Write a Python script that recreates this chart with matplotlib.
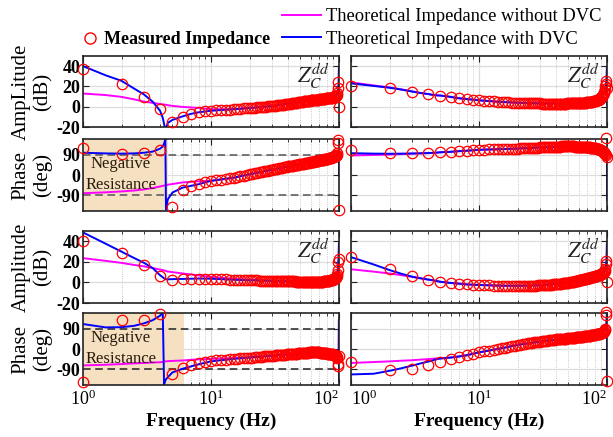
import numpy as np
import matplotlib.pyplot as plt
from matplotlib.lines import Line2D

plt.rcParams['font.family'] = 'Liberation Serif'
plt.rcParams['mathtext.fontset'] = 'stix'
plt.rcParams['axes.unicode_minus'] = False

# measured frequencies (Hz) and theoretical-curve frequencies (Hz)
f_meas = list(range(1, 101))
f_line = [1, 1.5, 2, 2.5, 3, 3.5, 4, 4.2, 4.3, 4.4, 4.45, 4.6, 5, 6, 7, 8, 10,
          15, 20, 30, 50, 70, 90, 95, 98, 99, 99.5, 99.9, 100]

# row 1 left: amplitude (dB)
r1l_meas = [37, 22, 10, -2, -15, -10, -7.3, -5.3, -4.3, -4,
            -3.7, -3.4, -3.1, -2.8, -2.5, -2.2, -2.0, -1.7, -1.5, -1.3,
            -1.1, -0.9, -0.7, -0.5, -0.3, -0.1, 0.1, 0.3, 0.5, 0.7,
            0.9, 1.1, 1.3, 1.5, 1.7, 1.9, 2.1, 2.3, 2.5, 2.7,
            2.9, 3.1, 3.3, 3.5, 3.7, 3.9, 4.1, 4.3, 4.5, 4.7,
            4.9, 5.0, 5.2, 5.3, 5.5, 5.6, 5.8, 5.9, 6.0, 6.2,
            6.3, 6.4, 6.5, 6.6, 6.7, 6.8, 6.9, 7.0, 7.1, 7.2,
            7.3, 7.4, 7.5, 7.6, 7.7, 7.8, 7.9, 8.0, 8.1, 8.2,
            8.3, 8.4, 8.5, 8.6, 8.7, 8.8, 8.9, 9.0, 9.2, 9.4,
            9.6, 9.8, 10.1, 10.5, 11, 12, 14, 18, 24, 0]
r1l_blue = [40, 31, 25.5, 18, 12, 5, -4, -11, -17, -24, -21, -16, -13, -9.5, -7,
            -5.5, -4, -2.5, -1.3, 0.7, 4.7, 7.2, 9.2, 11, 14, 18, 24, 39, 10]
r1l_mag = [13, 11.5, 9.7, 7.3, 5, 3.8, 2.7, 2.3, 2.1, 2.0, 1.9, 1.5, 0.8, -0.2, -0.7,
           -1.2, -2.5, -2.5, -1.3, 0.7, 4.7, 7.2, 9.2, 11, 14, 18, 24, 39, 10]

# row 1 right: amplitude (dB)
r1r_meas = [20.7, 18.3, 14.7, 12.7, 11, 9.7, 8.3, 7.7, 7, 6.3,
            5.9, 5.5, 5.2, 4.9, 4.7, 4.5, 4.3, 4.1, 4.0, 3.9,
            3.8, 3.7, 3.6, 3.5, 3.4, 3.4, 3.3, 3.3, 3.2, 3.2,
            3.1, 3.1, 3.1, 3.0, 3.0, 3.0, 3.0, 3.0, 3.0, 3.0,
            3.0, 3.0, 3.0, 3.0, 3.1, 3.1, 3.1, 3.1, 3.2, 3.2,
            3.2, 3.3, 3.3, 3.3, 3.4, 3.4, 3.5, 3.5, 3.6, 3.6,
            3.7, 3.7, 3.8, 3.8, 3.9, 4.0, 4.0, 4.1, 4.2, 4.3,
            4.4, 4.5, 4.6, 4.7, 4.8, 4.9, 5.0, 5.2, 5.4, 5.6,
            5.8, 6.0, 6.2, 6.5, 6.8, 7.1, 7.5, 8.0, 8.6, 9.3,
            10, 11, 12, 13.5, 15, 17, 20, 22, 25, 18]
r1r_blue = [23, 20.5, 18.7, 16.8, 15, 13.5, 12.5, 12, 11.8, 11.7, 11.6, 11.3, 11, 9.7, 8.3,
            7.6, 6.3, 4.7, 3.9, 3.2, 3.2, 4.3, 9.3, 15, 20, 25, 30, 39, 2]
r1r_mag = [24, 21, 19, 17, 15, 13.5, 12.5, 12, 11.8, 11.7, 11.6, 11.3, 11, 9.7, 8.3,
           7.6, 6.3, 4.7, 3.9, 3.2, 3.2, 4.3, 9.3, 15, 20, 25, 30, 39, 2]

# row 2 left: phase (deg)
r2l_meas = [120, 94.5, 99, 112, -140, -66, -50, -41, -33, -26,
            -23, -20, -17, -14.5, -12, -9, -6, -3, 0, 3,
            5, 7.5, 10, 12, 14, 16, 18, 20, 22, 23.5,
            25, 26.5, 28, 29.5, 31, 32.5, 34, 35, 36.5, 38,
            39, 40, 41, 42, 43, 44, 45, 46, 47, 48,
            49, 50, 51, 51.5, 52.5, 53.5, 54, 55, 56, 57,
            57.5, 58.5, 59, 60, 60.5, 61.5, 62, 63, 63.5, 64.5,
            65, 65.5, 66.5, 67, 67.5, 68.5, 69, 70, 70.5, 71.5,
            72, 73, 73.5, 74.5, 75, 76, 77, 78, 79, 80,
            81, 82.5, 84, 86, 88, 91, 96, 144, 154, -157]
r2l_blue = [99, 96, 95, 96, 99, 104, 117, 127, 140, 158, -155, -108, -78, -56, -48,
            -41, -26, -12, 3, 23.5, 48, 64.5, 80, 88, 95, 97, 98, 101, -3]
r2l_mag = [-81, -77, -73, -69, -64, -58, -51, -48, -47, -46, -45, -43, -40, -33, -30,
           -28, -26, -12, 3, 23.5, 48, 64.5, 80, 88, 95, 97, 98, 101, -3]

# row 2 right: phase (deg)
r2r_meas = [113, 95.6, 95.6, 97, 101.7, 103, 106, 107.6, 109, 112,
            113, 113.5, 114, 114.5, 115, 115.5, 116, 116.5, 117, 117.5,
            118, 118.5, 119, 119.5, 120, 120.5, 121, 121.5, 122, 122.5,
            123, 123.5, 124, 124.5, 125, 125, 125.5, 125.5, 126, 126,
            126.5, 126.5, 126.5, 127, 127, 127, 127, 127, 127, 127,
            127, 127, 127, 127, 127, 126.5, 126.5, 126.5, 126, 126,
            126, 125.5, 125.5, 125, 125, 124.5, 124.5, 124, 124, 123.5,
            123, 122.5, 122.5, 122, 121.5, 121, 120.5, 120, 119.5, 119,
            118.5, 118, 117, 116.5, 115.5, 114.5, 113.5, 112.5, 111, 109.5,
            108, 106, 104, 101, 98, 95, 92, 88, 166, 82]
r2r_blue = [97, 95, 94.5, 95, 95.5, 96.5, 97.5, 98, 98, 98.5, 98.5, 99, 101, 103, 106,
            107.6, 112, 115, 117.5, 122.5, 127, 123.5, 109.5, 98, 88, 85, 82, 79, -110]
r2r_mag = [87, 89, 91, 93, 95, 96, 97, 97.5, 98, 98, 98.5, 99, 101, 103, 106,
           107.6, 112, 115, 117.5, 122.5, 127, 123.5, 109.5, 98, 88, 85, 82, 79, -110]

# row 3 left: amplitude (dB)
r3l_meas = [40, 29, 17.3, 6.4, 2.2, 3.2, 3.8, 3.8, 3.8, 3.6,
            3.4, 3.2, 3.0, 2.8, 2.6, 2.5, 2.4, 2.3, 2.2, 2.1,
            2.0, 1.9, 1.9, 1.8, 1.8, 1.7, 1.7, 1.6, 1.6, 1.5,
            1.5, 1.4, 1.4, 1.3, 1.3, 1.3, 1.2, 1.2, 1.2, 1.1,
            1.1, 1.1, 1.0, 1.0, 1.0, 0.9, 0.9, 0.9, 0.8, 0.8,
            0.8, 0.8, 0.7, 0.7, 0.7, 0.7, 0.6, 0.6, 0.6, 0.6,
            0.6, 0.6, 0.6, 0.6, 0.6, 0.6, 0.7, 0.7, 0.7, 0.7,
            0.8, 0.8, 0.8, 0.9, 0.9, 1.0, 1.0, 1.1, 1.2, 1.3,
            1.4, 1.5, 1.6, 1.7, 1.9, 2.0, 2.2, 2.4, 2.6, 2.9,
            3.2, 3.6, 4.0, 4.6, 5.4, 6.5, 8.5, 12, 20, 23]
r3l_blue = [48.6, 37.7, 29.9, 23.8, 19, 14, 7, 5, 4, 3.3, 3, 3, 3.2, 3.4, 3.6,
            3.8, 3.6, 2.6, 2.1, 1.5, 0.8, 0.7, 2.9, 5.4, 12, 20, 25, 38, 12]
r3l_mag = [23.6, 21, 19, 17, 15.6, 14, 12.5, 12, 11.6, 11.3, 11.1, 10.6, 10, 8.7, 7.7,
           6.8, 5.4, 3.5, 2.5, 1.6, 0.9, 0.8, 3, 5.5, 12, 20, 25, 38, 12]

# row 3 right: amplitude (dB)
r3r_meas = [24.6, 13.5, 6, 2.2, 0.3, -0.7, -1.3, -2, -2.3, -2.6,
            -2.8, -2.9, -3.0, -3.1, -3.2, -3.2, -3.3, -3.3, -3.3, -3.3,
            -3.3, -3.3, -3.3, -3.2, -3.2, -3.1, -3.0, -3.0, -2.9, -2.8,
            -2.7, -2.6, -2.5, -2.4, -2.3, -2.2, -2.1, -1.9, -1.8, -1.7,
            -1.5, -1.4, -1.2, -1.1, -0.9, -0.8, -0.6, -0.5, -0.3, -0.1,
            0.1, 0.3, 0.5, 0.7, 0.9, 1.1, 1.3, 1.5, 1.7, 1.9,
            2.1, 2.3, 2.5, 2.7, 2.9, 3.1, 3.3, 3.5, 3.7, 3.9,
            4.1, 4.3, 4.5, 4.7, 4.9, 5.1, 5.3, 5.5, 5.7, 5.9,
            6.1, 6.3, 6.5, 6.7, 6.9, 7.1, 7.3, 7.5, 7.8, 8.1,
            8.4, 8.8, 9.2, 9.8, 10.5, 11.5, 13, 18, 21, 0.6]
r3r_blue = [24.6, 17.5, 12, 8.3, 5.6, 4, 2.8, 2.4, 2.2, 2.0, 1.9, 1.5, 0.6, -0.5, -1.2,
            -1.9, -2.5, -3.2, -3.3, -2.8, -0.1, 3.9, 8.1, 10.5, 16, 20, 26, 38, 19]
r3r_mag = [12.8, 10.5, 8.7, 7, 5.4, 4, 2.8, 2.4, 2.2, 2.0, 1.9, 1.5, 0.6, -0.5, -1.2,
           -1.9, -2.5, -3.2, -3.3, -2.8, -0.1, 3.9, 8.1, 10.5, 16, 20, 26, 38, 19]

# row 4 left: phase (deg)
r4l_meas = [-147, 128.6, 127, 156, -113, -85, -73, -64, -59, -53,
            -51, -49.5, -48, -46.5, -45, -43.5, -42, -41, -40, -39,
            -38, -37, -36, -35, -34, -33, -32, -31, -30.5, -29.5,
            -29, -28, -27.5, -27, -26, -25.5, -25, -24.5, -24, -23.5,
            -23, -22.5, -22, -21.5, -21, -20.5, -20, -19.5, -19, -18.5,
            -18, -17.5, -17, -17, -16.5, -16, -16, -15.5, -15.5, -15,
            -15, -15, -15, -15, -15, -15, -15, -15, -15.5, -15.5,
            -16, -16, -16.5, -17, -17, -17.5, -18, -18.5, -19, -19.5,
            -20, -20.5, -21, -21.5, -22, -22.5, -23, -23.5, -24, -25,
            -26, -27, -28, -30, -32, -35, -40, -65, -76, -32]
r4l_blue = [111, 96, 97, 103, 114, 128, 148, 162, -158, -140, -135, -125, -104, -88, -77,
            -68, -55, -44, -38, -29.5, -18.5, -15.5, -25, -28, -30, -32, -35, 130, -142]
r4l_mag = [-73, -70, -67, -64, -62, -60, -59, -57, -56, -55, -55, -54, -53, -51, -48,
           -46, -44, -40, -37, -29.5, -18.5, -15.5, -25, -28, -30, -32, -35, 130, -142]

# row 4 right: phase (deg)
r4r_meas = [-57, -95, -88, -72, -57, -46, -35, -28, -21, -15,
            -11, -7.5, -4, -0.5, 3, 6, 9, 12, 15, 18,
            20, 21.5, 23, 24.5, 26, 27.5, 29, 30.5, 32, 33,
            34, 35, 36, 37, 38, 39, 40, 41, 42, 42.5,
            43, 43.5, 44, 44.5, 45, 45.5, 46, 46.5, 47, 48,
            48.5, 49, 49.5, 50, 50.5, 51, 51.5, 52, 52.5, 53,
            53.5, 54, 54.5, 55, 55.5, 56, 56.5, 57, 57.5, 58,
            58.5, 59, 59.5, 60, 60.5, 61, 61.5, 62.5, 63, 63.5,
            64, 64.5, 65, 65.5, 66, 66.5, 67, 68, 69, 70,
            71, 72.5, 74, 76, 79, 83, 90, 150, 165, -142]
r4r_blue = [-113, -110, -97, -85, -74, -64, -56, -53, -52, -50, -49, -46, -42, -38, -33,
            -28, -15, 3, 18, 33, 48, 58, 70, 79, 95, 110, 130, 160, -145]
r4r_mag = [-62, -58, -55, -52, -50, -47, -45, -44, -43.5, -43, -42.5, -42, -42, -38, -33,
           -28, -15, 3, 18, 33, 48, 58, 70, 79, 95, 110, 130, 160, -145]

panels = [
    [(r1l_meas, r1l_blue, r1l_mag), (r1r_meas, r1r_blue, r1r_mag)],
    [(r2l_meas, r2l_blue, r2l_mag), (r2r_meas, r2r_blue, r2r_mag)],
    [(r3l_meas, r3l_blue, r3l_mag), (r3r_meas, r3r_blue, r3r_mag)],
    [(r4l_meas, r4l_blue, r4l_mag), (r4r_meas, r4r_blue, r4r_mag)],
]
ylabels = ['AmpLitude\n(dB)', 'Phase\n(deg)', 'Amplitude\n(dB)', 'Phase\n(deg)']
shade_end = {1: 4.6, 3: 6.2}

W, H = 613, 437
fig = plt.figure(figsize=(W / 100, H / 100), dpi=100)
col_left = [83, 351]
row_pix = [(56, 127), (139, 211), (231, 303), (313, 385)]

for i, (top, bot) in enumerate(row_pix):
    is_phase = i % 2 == 1
    for j in range(2):
        ax = fig.add_axes([col_left[j] / W, 1 - bot / H, 256 / W, (bot - top) / H])
        meas, blue, mag = panels[i][j]
        ax.set_xscale('log')
        ax.set_xlim(1, 100)
        ax.set_xticks([1, 10, 100])
        ax.set_axisbelow(True)
        ax.grid(True, which='major', color='#dcdcdc', lw=0.9)
        ax.grid(True, which='minor', axis='x', color='#b8b8b8', lw=0.6, ls=':')

        if is_phase:
            ax.set_ylim(-160, 160)
            ax.set_yticks([-90, 0, 90])
            if j == 0:
                ax.axvspan(1, shade_end[i], color='#f6e0c2', zorder=0.6, lw=0)
                dash_col = '#555555' if i == 1 else '#222222'
                ax.axhline(90, color=dash_col, lw=1.1, ls=(0, (5, 3)), zorder=0.7)
                ax.axhline(-90, color=dash_col, lw=1.1, ls=(0, (5, 3)), zorder=0.7)
                ax.text(1.98, 2, 'Negative\nResistance', ha='center', va='center',
                        fontsize=12, linespacing=1.35, color='#2b1d0e', zorder=3)
        else:
            ax.set_ylim(-20, 50)
            ax.set_yticks([-20, 0, 20, 40])
            ax.text(0.9 if j == 0 else 0.91, 0.71, r'$Z_C^{dd}$', transform=ax.transAxes,
                    fontsize=16, ha='center', va='center', color='#222222')

        ax.plot(f_line, mag, color='#ff00ff', lw=1.4, zorder=2,
                label='Theoretical Impedance without DVC')
        ax.plot(f_line, blue, color='#0000ff', lw=1.4, zorder=2.1,
                label='Theoretical Impedance with DVC')
        ax.plot(f_meas, meas, 'o', mfc='none', mec='#ff0000', ms=7.5, mew=0.9,
                zorder=3, clip_on=False, label='Measured Impedance')

        ax.tick_params(which='both', direction='in', top=True, right=True,
                       colors='#222222', labelcolor='black')
        ax.tick_params(which='major', length=4, width=0.8)
        ax.tick_params(which='minor', length=2, width=0.6)
        ax.tick_params(axis='x', labelsize=13, pad=3)
        ax.tick_params(axis='y', labelsize=13, pad=2)
        for lab in ax.get_yticklabels():
            lab.set_fontweight('bold')
        for s in ax.spines.values():
            s.set_color('#222222')
            s.set_linewidth(1.2)

        if j == 1:
            ax.tick_params(labelleft=False)
        else:
            ax.set_ylabel(ylabels[i], fontsize=15, linespacing=1.15)
            ax.yaxis.set_label_coords(-0.12, 0.5)
        if i < 3:
            ax.tick_params(labelbottom=False)
        else:
            ax.set_xlabel('Frequency (Hz)', fontsize=14, fontweight='bold', labelpad=3)
            xt = ax.xaxis.get_major_ticks()
            if j == 0:
                xt[2].label1.set_horizontalalignment('right')
                xt[2].label1.set_x(1.0)
            else:
                xt[0].label1.set_horizontalalignment('left')
                xt[2].label1.set_horizontalalignment('right')

        if i == 0 and j == 0:
            line_handles = ax.get_lines()

fig.legend(handles=[line_handles[0], line_handles[1]], loc='upper left',
           bbox_to_anchor=(282 / W, 1 - 8 / H), frameon=False, fontsize=13.3,
           handlelength=2.1, handletextpad=0.3, labelspacing=0.32,
           borderpad=0, borderaxespad=0)
meas_handle = Line2D([], [], ls='none', marker='o', mfc='none', mec='#ff0000',
                     ms=8, mew=1.0)
fig.legend(handles=[meas_handle], labels=['Measured Impedance'], loc='upper left',
           bbox_to_anchor=(81 / W, 1 - 31 / H), frameon=False,
           prop={'size': 13, 'weight': 'bold'}, handlelength=1.0,
           handletextpad=0.3, borderpad=0, borderaxespad=0)

fig.savefig('out.png', dpi=100)
